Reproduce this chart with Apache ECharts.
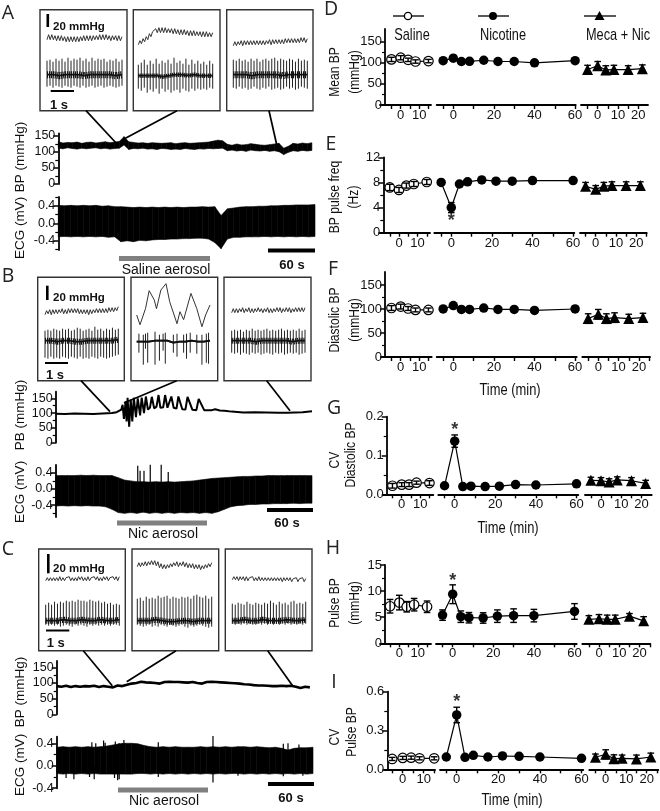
<!DOCTYPE html>
<html><head><meta charset="utf-8">
<style>html,body{margin:0;padding:0;background:#fff}#c{width:660px;height:811px}</style>
<script src="https://cdn.jsdelivr.net/npm/echarts@6/dist/echarts.min.js"></script>
</head><body><div id="c"></div>
<script>
// ---------- right column data ----------
const tSal=[-5,0,4,8,15], tNic=[-5,0,4,8,15,22,30,40,60], tMeca=[-5,0,4,8,15,22];
const dSal=[108,112,107,103,104], dSalE=[5,5,4,4,4];
const dNic=[105,111,103,103.5,106,103,103,100,105], dNicE=[4,4,4,4,4,4,4,4,4];
const dMeca=[84,93,83,84,84,86], dMecaE=[10,10,10,10,9,9];
const eSal=[7.2,6.8,7.5,7.75,8.07], eSalE=[.5,.4,.4,.4,.4];
const eNic=[8,4,7.75,8.1,8.4,8.2,8.2,8.3,8.3], eNicE=[.3,.8,.3,.3,.3,.3,.3,.3,.3];
const eMeca=[7.4,6.9,7.4,7.5,7.5,7.5], eMecaE=[.6,.6,.6,.6,.6,.6];
const fSal=[102,105,101,98,98], fSalE=[5,5,4,4,4];
const fNic=[100,107,99,99,102,99,99,97,100], fNicE=[4,4,4,4,4,4,4,4,4];
const fMeca=[80,89,80,82,80,82], fMecaE=[10,10,10,10,9,9];
const gSal=[.022,.025,.025,.03,.029], gSalE=[.006,.005,.005,.004,.006];
const gNic=[.022,.137,.02,.021,.02,.021,.025,.024,.027], gNicE=[.003,.016,.003,.003,.003,.003,.004,.003,.004];
const gMeca=[.036,.035,.032,.037,.035,.028], gMecaE=[.008,.008,.008,.008,.008,.008];
const hSal=[7.1,7.8,7,7.4,7], hSalE=[1.3,1.4,1,1.2,1.1];
const hNic=[5.4,9.4,5.1,4.9,4.85,5.2,5.3,5.3,6.1], hNicE=[1,1.8,1.1,1,1,1.2,1.3,1.2,1.5];
const hMeca=[4.6,4.7,4.6,4.6,5.2,4.3], hMecaE=[.7,.8,.8,.8,.5,.8];
const iSal=[.08,.088,.09,.085,.085], iSalE=[.012,.012,.012,.012,.012];
const iNic=[.095,.42,.093,.108,.095,.103,.1,.095,.085], iNicE=[.01,.06,.01,.012,.01,.012,.01,.01,.012];
const iMeca=[.093,.116,.082,.085,.08,.095], iMecaE=[.025,.035,.03,.025,.03,.03];
// ---------- main trace data ----------
const stepBp=6, stepEcg=8;
const bpAHi=[132,128,130,129,131,127,130,131,128,130,132,129,131,133,148,132,130,128,129,127,129,128,127,128,129,126,128,129,127,128,129,130,131,134,137,135,124,121,125,122,123,126,124,122,121,123,125,127,112,118,127,125,128,126,129];
const bpALo=[112,110,113,111,109,112,110,112,113,110,112,109,111,112,122,108,111,110,112,109,110,108,111,110,108,109,108,111,109,108,110,109,111,110,111,112,104,106,103,105,102,106,104,103,105,102,104,101,92,99,104,102,105,103,105];
const ecgAHi=[.41,.40,.41,.40,.41,.40,.41,.39,.40,.38,.38,.37,.36,.37,.36,.37,.36,.37,.36,.37,.36,.37,.37,.38,.37,.38,.18,.33,.35,.37,.38,.38,.39,.39,.40,.40,.41,.41,.42,.42,.42,.43];
const ecgALo=[-.31,-.30,-.31,-.30,-.31,-.30,-.31,-.30,-.32,-.31,-.42,-.40,-.42,-.39,-.40,-.38,-.37,-.37,-.36,-.36,-.35,-.35,-.34,-.34,-.36,-.44,-.58,-.36,-.32,-.32,-.31,-.31,-.31,-.30,-.31,-.30,-.31,-.30,-.31,-.30,-.31,-.30];
const bpBTime=[0,12,24,36,48,60,72,78,84,85.6,87.3,89.5,90.7,92,94,96,98,100,102.7,105,108,110,113,115.4,118,120.6,123,126,129,131.6,134,137.6,140,143,145,148,151,154.6,157,162,166,168.7,175,180,183,190,200,204,210,216,225,240,255,270,285,297,306,316,328];
const bpBVal=[98,97,99,98,97,99,100,103,112,128,80,140,72,152,54,146,72,152,86,150,92,152,100,156,112,118,155,116,122,161,118,120,161,118,115,156,118,115,156,113,112,155,111,110,148,110,110,113,109,108,105,102,103,102,101,101,102,103,106];
const ecgBHi=[.33,.33,.33,.33,.34,.33,.34,.33,.33,.33,.28,.22,.20,.18,.18,.17,.18,.17,.18,.17,.18,.19,.20,.22,.24,.26,.27,.28,.29,.30,.31,.31,.32,.32,.33,.33,.33,.33,.33,.33,.33,.33];
const ecgBLo=[-.42,-.41,-.42,-.41,-.42,-.41,-.42,-.42,-.44,-.50,-.58,-.60,-.58,-.60,-.57,-.60,-.58,-.60,-.58,-.60,-.58,-.59,-.58,-.60,-.58,-.60,-.56,-.50,-.44,-.41,-.40,-.38,-.38,-.37,-.37,-.36,-.36,-.36,-.35,-.36,-.35,-.35];
const spikeBT=[105,108,113,121,135,144], spikeBV=[.57,.45,.45,.6,.6,.42];
const bpC=[90,88,91,87,90,88,90,89,91,87,90,88,86,92,90,94,98,100,104,102,101,100,98,103,104,103,103,102,101,103,100,98,103,104,103,102,101,100,99,98,96,95,93,92,92,91,90,90,91,90,91,88,84,88,86];
const ecgCHi=[.33,.34,.33,.34,.33,.34,.33,.34,.35,.37,.39,.40,.40,.39,.36,.34,.33,.34,.33,.34,.33,.33,.33,.34,.33,.34,.33,.34,.33,.34,.34,.33,.34,.33,.32,.33,.31,.28,.31,.32,.32,.33];
const ecgCLo=[-.14,-.15,-.14,-.15,-.14,-.15,-.14,-.15,-.15,-.15,-.15,-.15,-.15,-.14,-.14,-.15,-.14,-.15,-.14,-.15,-.14,-.15,-.14,-.15,-.14,-.15,-.14,-.15,-.14,-.14,-.15,-.14,-.15,-.14,-.15,-.14,-.15,-.14,-.15,-.14,-.15,-.14];
const spikeCT=[45,50,60,62,75,80,84,86,130,200,290,296,310], spikeCV=[.42,.40,.45,.41,.43,.40,.40,.46,.42,.53,.39,.40,.38];
const dipCT=[12,22,42,48,74,78,80,130,200,232,290,315], dipCV=[-.22,-.24,-.20,-.24,-.22,-.26,-.24,-.20,-.30,-.18,-.19,-.18];
// ---------- inset traces (heights within each inset box) ----------
const bpA1=[71,76,71,76,71,75,70,75,70,75,70,74,69,74,69,74,69,74,69,74,69,74,70,75,70,75,70,75,70,75,71,75,71,76,71,76,71,76,71,75,70,75,71,75,70,75,70,74];
const upA1=[50,51,49,52,50,52,49,53,50,52,51,53,50,52,49,53,50,52,51,52,49,51,50,52,49,51];
const dnA1=[24,25,23,25,24,23,25,24,23,25,24,23,25,23,24,25,23,24,25,23,24,25,24,23,24,25];
const baseA1=[36,36,35,36,36,36,35,36,36,36,36,35,36];
const bpA2=[66,70,67,72,69,74,71,77,74,79,77,82,78,83,78,83,78,83,78,82,78,82,77,82,77,81,76,81,76,81,76,80,75,80,75,80,75,79,75,79,74,79,74,79,74,78,74,78];
const upA2=[46,48,51,46,50,47,52,47,50,48,51,47,53,48,50,47,52,46,51,47,50,47,49,46,50,47];
const dnA2=[22,20,23,18,21,19,22,17,22,19,21,18,20,21,18,22,20,19,22,20,22,21,22,21,23,22];
const baseA2=[35,35,35,35,34,35,36,36,35,36,35,35,35];
const bpA3=[65,69,65,69,66,70,65,70,66,70,66,70,66,70,66,70,66,70,66,70,66,70,67,71,66,71,67,71,67,71,67,71,67,72,68,72,68,72,68,72,68,72,68,73,69,73,68,72];
const upA3=[51,50,52,50,51,49,52,50,52,49,51,52,50,52,53,50,52,51,50,52,51,49,52,50,51,50];
const dnA3=[23,22,24,22,23,21,22,24,22,21,23,22,24,21,22,23,21,22,24,22,23,21,22,24,23,22];
const baseA3=[36,36,36,35,36,36,36,36,35,36,36,36,36];
const bpB1=[66,70,67,71,66,71,67,71,67,71,68,72,67,71,67,72,68,72,68,72,68,72,67,71,67,71,67,71,66,71,67,71,68,72,68,72,68,72,68,72,68,73,69,73,69,73,70,74];
const upB1=[50,51,50,52,51,50,52,51,52,50,51,53,52,50,51,52,50,54,51,52,50,52,51,53,51,52];
const dnB1=[23,22,24,22,23,22,24,23,22,24,23,22,24,22,23,22,24,23,22,24,23,22,23,24,25,26];
const baseB1=[40,40,39,40,40,39,39,40,40,40,40,40,41];
const timeB2=[0,4.5,12,17,24,27,33,40,45,55,59,64,74,82,89,94,96,100];
const bpB2=[65.7,56,72,90,80.7,72,90.7,97,79,57,69,61,87.3,72,54,65.7,64,75.7];
const spikeTB2=[3,9,12,15,25,31,36,39,50,55,64,68,73,82,89,95,98];
const upB2=[47,46,47,48,49,46,47,48,46,47,46,47,48,46,46,47,48];
const dnB2=[28,16,32,18,16,20,30,17,28,24,28,22,28,27,16,18,17];
const baseB2=[39,39,39,40,40,40,38,39,39,40,39,39,40];
const bpB3=[68,72,68,72,68,72,69,73,68,72,69,73,68,72,68,72,69,73,69,72,68,72,69,73,68,72,68,72,69,73,69,73,68,72,69,73,69,73,68,72,69,73,69,73,69,73,69,73];
const upB3=[50,51,50,51,49,51,50,52,50,51,50,51,52,50,51,50,51,52,50,51,50,51,50,52,50,51];
const dnB3=[28,27,28,26,28,27,26,28,27,28,26,27,28,27,26,28,27,28,26,27,28,27,28,26,27,28];
const baseB3=[40,40,40,40,39,40,40,40,40,40,39,40,40];
const bpC1=[70,73,70,73,70,73,70,73,70,74,70,73,70,73,71,74,70,73,70,73,70,74,71,74,70,73,70,74,70,73,71,74,71,74,70,73,70,74,71,74,70,73,71,74,71,74,70,74];
const upC1=[46,48,46,49,47,49,48,50,49,50,49,51,50,50,49,51,50,49,50,48,49,47,48,46,47,46];
const dnC1=[26,25,26,25,26,24,25,26,25,24,26,25,26,25,24,26,25,26,25,26,25,26,25,26,26,25];
const baseC1=[30,30,30,31,30,30,31,30,30,31,30,30,31];
const bpC2=[84,88,84,88,85,89,85,89,86,90,86,90,85,89,83,87,82,86,82,86,83,87,84,88,85,89,84,88,85,89,84,88,83,87,83,87,82,86,82,86,81,85,82,86,83,87,84,88];
const upC2=[52,53,50,54,52,53,52,55,53,54,55,52,54,53,52,54,53,54,52,55,56,54,53,55,52,54];
const dnC2=[26,25,24,25,26,24,25,24,26,25,24,26,25,24,25,26,24,23,25,24,25,26,25,24,23,24];
const baseC2=[30,30,30,31,30,29,29,30,30,29,30,30,30];
const bpC3=[71,74,71,74,70,74,71,74,70,74,70,73,71,74,70,73,70,74,70,73,70,73,70,73,70,73,70,73,70,73,70,73,69,73,70,73,70,73,69,72,70,73,69,72,70,73,69,72];
const upC3=[47,46,48,47,46,49,47,46,48,47,46,48,47,50,48,46,49,47,48,46,49,50,47,48,47,49];
const dnC3=[27,26,27,26,27,26,27,26,26,27,26,27,26,27,26,27,26,27,26,27,26,27,26,27,26,27];
const baseC3=[30,30,31,30,30,31,30,30,30,31,30,30,31];
// ---------- tick labels ----------
const ticksBp=[0,50,100,150], minorBp=[25,75,125];
const ticksEcg=[-.4,0,.4], minorEcg=[-.6,-.2,.2,.6];
// ---------- layout ----------
const SANS='"Liberation Sans",Arial,sans-serif';
const grid=[],xAxis=[],yAxis=[],series=[],graphic=[];
function addGrid(l,t,w,h){grid.push({left:l,top:t,width:w,height:h,containLabel:false});return grid.length-1;}
function hiddenX(g,min,max){xAxis.push({gridIndex:g,type:'value',min,max,show:false});return xAxis.length-1;}
function hiddenY(g,min,max){yAxis.push({gridIndex:g,type:'value',min,max,show:false});return yAxis.length-1;}
function shownY(g,min,max,majors,minors,dec,size){
  const base={gridIndex:g,type:'value',min,max,position:'left',splitLine:{show:false},
    axisLine:{show:true,onZero:false,lineStyle:{color:'#000',width:1.8}}};
  yAxis.push(Object.assign({},base,{axisTick:{show:true,length:5,customValues:majors,lineStyle:{color:'#000',width:1.5}},
    axisLabel:{show:true,customValues:majors,margin:3,color:'#111',fontFamily:SANS,fontSize:size,formatter:v=>Number(v).toFixed(dec)}}));
  const i=yAxis.length-1;
  yAxis.push(Object.assign({},base,{axisLine:{show:false},axisTick:{show:true,length:3,customValues:minors,lineStyle:{color:'#000',width:1.2}},axisLabel:{show:false}}));
  return i;
}
function text(x,y,t,o){o=o||{};graphic.push({type:'text',x,y,rotation:o.rot?Math.PI/2:0,scaleX:o.sx||1,z:100,style:{text:t,fill:o.fill||'#111',
  font:(o.bold?'bold ':'')+(o.size||13)+'px '+(o.fam||SANS),textAlign:o.align||'center',textVerticalAlign:'middle',verticalAlign:'middle'}});}
function rect(x,y,w,h,f){graphic.push({type:'rect',z:100,shape:{x,y,width:w,height:h},style:{fill:f}});}
function seg(x1,y1,x2,y2,w){graphic.push({type:'line',z:100,shape:{x1,y1,x2,y2},style:{stroke:'#000',lineWidth:w||1.6}});}
function envelope(x,y,dt,hi,lo){series.push({type:'custom',xAxisIndex:x,yAxisIndex:y,clip:false,silent:true,
  data:hi.map((h,i)=>[i*dt,h,lo[i]]),encode:{x:0,y:[1,2]},
  renderItem(p,api){const i=p.dataIndex;if(i>=hi.length-1)return;
    const a=api.coord([i*dt,hi[i]]),b=api.coord([(i+1)*dt,hi[i+1]]),c=api.coord([(i+1)*dt,lo[i+1]]),d=api.coord([i*dt,lo[i]]);
    return{type:'polygon',shape:{points:[a,b,c,d]},style:{fill:'#000',stroke:'#000',lineWidth:.6}};}});}
function spikes(x,y,ts,vs,from,w,col){const data=[];ts.forEach((t,i)=>{const f=Array.isArray(from)?from[i]:from;data.push([t,f],[t,vs[i]],[t,'-']);});
  series.push({type:'line',xAxisIndex:x,yAxisIndex:y,data,symbol:'none',silent:true,clip:false,connectNulls:false,lineStyle:{color:col||'#000',width:w||1}});}
function line(x,y,data,w,col,dash){series.push({type:'line',xAxisIndex:x,yAxisIndex:y,data,symbol:'none',silent:true,clip:false,lineStyle:{color:col||'#000',width:w,join:'bevel',type:dash||'solid'}});}

// left main panels
const leftPanels=[
 {x:58.3,r:315,bpHi:bpAHi,bpLo:bpALo,bpTop:133.3,bpZero:184,bpK:48/150,eTop:197,eZero:223.3,eK:43.75,eBot:250,hi:ecgAHi,lo:ecgALo,bl:'BP (mmHg)',blY:157,elY:228},
 {x:55.7,r:312,bp:bpBVal,times:bpBTime,bpTop:391.7,bpZero:442.7,bpK:44.4/150,bpW:2,eTop:465,eZero:489,eK:40.6,eBot:517,hi:ecgBHi,lo:ecgBLo,bl:'PB (mmHg)',blY:415,elY:492,spT:spikeBT,spV:spikeBV},
 {x:56.7,r:313,bp:bpC,bpTop:661,bpZero:714.3,bpK:47/150,bpW:2.6,eTop:736.7,eZero:765.7,eK:56,eBot:788.3,hi:ecgCHi,lo:ecgCLo,bl:'BP (mmHg)',blY:692,elY:765,spT:spikeCT,spV:spikeCV,dnT:dipCT,dnV:dipCV}
];
leftPanels.forEach(p=>{
  const w=p.r-p.x;
  let g=addGrid(p.x,p.bpTop,w,p.bpZero-p.bpTop);
  let xi=hiddenX(g,0,328),yi=shownY(g,0,(p.bpZero-p.bpTop)/p.bpK,ticksBp,minorBp,0,12.5);
  if(p.bpHi)envelope(xi,yi,stepBp,p.bpHi,p.bpLo);
  else line(xi,yi,p.bp.map((v,i)=>[p.times?p.times[i]:i*stepBp,v]),p.bpW);
  g=addGrid(p.x,p.eTop,w,p.eBot-p.eTop);
  xi=hiddenX(g,0,328);
  const eMax=(p.eZero-p.eTop)/p.eK,eMin=-(p.eBot-p.eZero)/p.eK;
  yi=shownY(g,eMin,eMax,ticksEcg,minorEcg.filter(v=>v>eMin&&v<eMax),1,12.5);
  envelope(xi,yi,stepEcg,p.hi,p.lo);
  if(p.spT)spikes(xi,yi,p.spT,p.spV,0,1.2);
  if(p.dnT)spikes(xi,yi,p.dnT,p.dnV,0,1.2);
  text(20,p.blY,p.bl,{rot:1,size:13.5});text(20,p.elY,'ECG (mV)',{rot:1,size:13.5});
});
// bars and labels
rect(119,256,91,5,'#808080');rect(117,520.5,90,5,'#808080');rect(118,787.5,90,5,'#808080');
rect(268,248.5,47,4,'#000');rect(267,508,46,4,'#000');rect(268,782,46,4,'#000');
text(166,270,'Saline aerosol',{size:14});text(163,534,'Nic aerosol',{size:14});text(164,801,'Nic aerosol',{size:14});
text(292,265,'60 s',{bold:1,size:13});text(287,523,'60 s',{bold:1,size:13});text(291,798,'60 s',{bold:1,size:13});
// letters
[['A',8,13],['B',8,276],['C',8,549],['D',331,9],['E',331,144],['F',333,269],['G',334,408],['H',333,548],['I',334,682]].forEach(a=>text(a[1],a[2],a[0],{fam:'"Open Sans",sans-serif',size:20.5,sx:.95,fill:'#222'}));
// connectors
[[86,110.7,117,144],[177,110.7,124,139],[269,110.7,277,146],[81,380.7,110,411.7],[176.7,380.7,124,403],[266.7,380.7,290,410.7],[83.3,650.7,112.3,685.7],[176,650.7,126.7,681.7],[267.7,650.7,293.3,686.7]].forEach(c=>seg(c[0],c[1],c[2],c[3],1.7));

// insets
const insets=[
 {l:40,r:127,t:9.7,b:110.7,tx:[47,122],bp:bpA1,up:upA1,dn:dnA1,base:baseA1,bw:7},
 {l:133.3,r:220,t:9.7,b:110.7,tx:[138.3,212.7],bp:bpA2,up:upA2,dn:dnA2,base:baseA2,bw:4.5},
 {l:226.7,r:313,t:9.7,b:110.7,tx:[233.3,307.3],bp:bpA3,up:upA3,dn:dnA3,base:baseA3,bw:7},
 {l:37.7,r:124.3,t:277.3,b:380.7,tx:[45,118.3],bp:bpB1,up:upB1,dn:dnB1,base:baseB1,bw:6},
 {l:131,r:217.7,t:277.3,b:380.7,tx:[136.7,210],bp:bpB2,bpT:timeB2,up:upB2,dn:dnB2,spT:spikeTB2,base:baseB2,bw:1.8,solid:1},
 {l:224,r:311,t:277.3,b:380.7,tx:[231.7,305],bp:bpB3,up:upB3,dn:dnB3,base:baseB3,bw:6},
 {l:38.7,r:125.3,t:549,b:650.7,tx:[45.7,119.3],bp:bpC1,up:upC1,dn:dnC1,base:baseC1,bw:6},
 {l:132,r:218.7,t:549,b:650.7,tx:[137.3,211.7],bp:bpC2,up:upC2,dn:dnC2,base:baseC2,bw:6},
 {l:225.3,r:312,t:549,b:650.7,tx:[232.3,305.7],bp:bpC3,up:upC3,dn:dnC3,base:baseC3,bw:6}
];
insets.forEach(b=>{
  graphic.push({type:'rect',z:-1,shape:{x:b.l,y:b.t,width:b.r-b.l,height:b.b-b.t},style:{fill:'#fff',stroke:'#333',lineWidth:1.4}});
  const h=b.b-b.t,g=addGrid(b.tx[0],b.t,b.tx[1]-b.tx[0],h),xi=hiddenX(g,0,100),yi=hiddenY(g,0,h);
  series.push({type:'line',xAxisIndex:xi,yAxisIndex:yi,data:b.bp.map((v,i)=>[b.bpT?b.bpT[i]:i*100/(b.bp.length-1),v]),symbol:'none',silent:true,lineStyle:{color:'#333',width:1}});
  const ts=b.spT||b.up.map((_,i)=>i*100/(b.up.length-1));
  spikes(xi,yi,ts,b.up,b.dn,1,'#222');
  line(xi,yi,b.base.map((v,i)=>[i*100/(b.base.length-1),v]),b.bw,'#111',b.solid?'solid':[1.1,.9]);
  line(xi,yi,b.base.map((v,i)=>[i*100/(b.base.length-1),v]),1.8,'#111');
});
// inset scale bars
rect(46.5,14,2.6,13,'#000');text(53,27,'20 mmHg',{bold:1,size:11.5,align:'left'});rect(50.7,90,23.3,2,'#000');text(59,105,'1 s',{bold:1,size:13});
rect(46,285.7,2.6,14.3,'#000');text(53,298,'20 mmHg',{bold:1,size:11.5,align:'left'});rect(45,362,23,2,'#000');text(55,375.7,'1 s',{bold:1,size:13});
rect(47,554,2.6,19.3,'#000');text(53,569,'20 mmHg',{bold:1,size:11.5,align:'left'});rect(46,629.5,23.3,2,'#000');text(55.7,643,'1 s',{bold:1,size:13});

// right panels
function errBars(xi,yi,ts,vs,es,z){series.push({type:'custom',z,xAxisIndex:xi,yAxisIndex:yi,clip:false,silent:true,data:ts.map((t,i)=>[t,vs[i],es[i]]),encode:{x:0,y:1},
  renderItem(p,api){const x=api.value(0),y=api.value(1),e=api.value(2),a=api.coord([x,y+e]),b=api.coord([x,y-e]);
    const st={stroke:'#000',lineWidth:1.4};
    return{type:'group',children:[{type:'line',shape:{x1:a[0],y1:a[1],x2:b[0],y2:b[1]},style:st},
      {type:'line',shape:{x1:a[0]-3.3,y1:a[1],x2:a[0]+3.3,y2:a[1]},style:st},{type:'line',shape:{x1:b[0]-3.3,y1:b[1],x2:b[0]+3.3,y2:b[1]},style:st}]};}});}
const rows=[
 {spine:385,top:29,y0:105,yTop:180,segs:[[380,431,400.7,1.85],[436.7,575.7,453.3,2.03],[581,648,597.7,2.03]],maj:[0,50,100,150],min:[25,75,125],dec:0,sal:dSal,salE:dSalE,nic:dNic,nicE:dNicE,mec:dMeca,mecE:dMecaE,
  labels:[['Mean BP',335,72],['(mmHg)',355,72]]},
 {spine:383.3,top:157.3,y0:232.7,yTop:12,segs:[[380,430,399,1.85],[434.3,574.3,451.3,2.03],[580,646.7,595.7,2.03]],maj:[0,4,8,12],min:[2,6,10],dec:0,sal:eSal,salE:eSalE,nic:eNic,nicE:eNicE,mec:eMeca,mecE:eMecaE,star:2.55,
  labels:[['BP pulse freq',335,197],['(Hz)',354,197]]},
 {spine:385,top:272,y0:357,yTop:177,segs:[[381.7,431.7,400.7,1.85],[436.7,576.7,453.3,2.03],[582.3,650,598.3,2.03]],maj:[0,50,100,150],min:[25,75,125],dec:0,sal:fSal,salE:fSalE,nic:fNic,nicE:fNicE,mec:fMeca,mecE:fMecaE,
  labels:[['Diastolic BP',335,320],['(mmHg)',355,320]]},
 {spine:386.7,top:416.7,y0:494.3,yTop:.2,segs:[[383.3,433.3,401.7,1.85],[438.3,578.3,454.7,2.03],[585,651.7,601,2.03]],maj:[0,.1,.2],min:[.05,.15],dec:1,sal:gSal,salE:gSalE,nic:gNic,nicE:gNicE,mec:gMeca,mecE:gMecaE,star:.176,
  labels:[['CV',335,460],['Diastolic BP',351,455]]},
 {spine:385,top:565,y0:643.3,yTop:15,segs:[[380,431,399.3,1.85],[436,576.7,452.7,2.03],[582.3,650,599,2.03]],maj:[0,5,10,15],min:[2.5,7.5,12.5],dec:0,sal:hSal,salE:hSalE,nic:hNic,nicE:hNicE,mec:hMeca,mecE:hMecaE,star:12.6,
  labels:[['Pulse BP',335,603],['(mmHg)',355,603]]},
 {spine:387.3,top:691.7,y0:769.3,yTop:.6,segs:[[384.3,435,402.7,2.1],[440,583.3,456.7,2.08],[589.3,658.3,605.7,2.05]],maj:[0,.3,.6],min:[.15,.45],dec:1,sal:iSal,salE:iSalE,nic:iNic,nicE:iNicE,mec:iMeca,mecE:iMecaE,star:.55,
  labels:[['CV',335,737],['Pulse BP',352,732]]}
];
const xTicks=[[-5,0,5,10,15],[-5,0,10,20,30,40,50,60],[-5,0,5,10,15,20,25]];
const xLabels=[[0,10],[0,20,40,60],[0,10,20]];
rows.forEach(r=>{
  // the y axis has its own grid, so that the x segments may start left of it
  const ag=addGrid(r.spine,r.top,20,r.y0-r.top);
  hiddenX(ag,0,1);
  shownY(ag,0,r.yTop,r.maj,r.min,r.dec,13);
  r.segs.forEach((s,k)=>{
    const g=addGrid(s[0],r.top,s[1]-s[0],r.y0-r.top);
    const xmin=(s[0]-s[2])/s[3],xmax=(s[1]-s[2])/s[3];
    xAxis.push({gridIndex:g,type:'value',min:xmin,max:xmax,splitLine:{show:false},
      axisLine:{show:true,onZero:false,lineStyle:{color:'#000',width:1.8}},
      axisTick:{show:true,length:4,customValues:xTicks[k],lineStyle:{color:'#000',width:1.4}},
      axisLabel:{show:true,customValues:xLabels[k],margin:4,color:'#111',fontFamily:SANS,fontSize:13,formatter:v=>String(Math.round(v))}});
    const xi=xAxis.length-1;
    const yi=hiddenY(g,0,r.yTop);
    const t=[tSal,tNic,tMeca][k],v=[r.sal,r.nic,r.mec][k],e=[r.salE,r.nicE,r.mecE][k];
    series.push({type:'line',z:2,xAxisIndex:xi,yAxisIndex:yi,clip:false,silent:true,data:t.map((a,i)=>[a,v[i]]),
      symbol:k===2?'triangle':'circle',symbolSize:k===2?11:9.5,showSymbol:true,
      lineStyle:{color:'#000',width:1.2},itemStyle:{color:k===0?'#fff':'#000',borderColor:'#000',borderWidth:k===0?1.2:0,opacity:1}});
    errBars(xi,yi,t,v,e,3);
    if(k===1&&r.star!==undefined)series.push({type:'scatter',z:4,xAxisIndex:xi,yAxisIndex:yi,clip:false,silent:true,data:[[0,r.star]],symbolSize:1,itemStyle:{color:'rgba(0,0,0,0)'},
      label:{show:true,formatter:'*',position:'inside',offset:[0,4],fontFamily:SANS,fontWeight:'bold',fontSize:18,color:'#000'}});
  });
  r.labels.forEach(a=>text(a[1],a[2],a[0],{rot:1,size:15.5,sx:.78}));
});
text(510,390,'Time (min)',{size:17,sx:.76});text(508,528,'Time (min)',{size:17,sx:.76});text(512,800,'Time (min)',{size:17,sx:.76});
// legend of D
seg(393,16,424,16,1.3);seg(478,16,509,16,1.3);seg(584,16,616,16,1.3);
graphic.push({type:'circle',z:100,shape:{cx:408,cy:16,r:3.6},style:{fill:'#fff',stroke:'#000',lineWidth:1.3}});
graphic.push({type:'circle',z:100,shape:{cx:493,cy:16,r:4},style:{fill:'#000'}});
graphic.push({type:'polygon',z:100,shape:{points:[[599.5,11],[594.5,20],[604.5,20]]},style:{fill:'#000'}});
text(412,35,'Saline',{size:17,sx:.75});text(503,35,'Nicotine',{size:17,sx:.75});text(618,35,'Meca + Nic',{size:17,sx:.75});

const chart=echarts.init(document.getElementById('c'),null,{renderer:'canvas'});
chart.setOption({animation:false,backgroundColor:'#fff',tooltip:{show:false},grid,xAxis,yAxis,series,graphic:{elements:graphic}});
</script></body></html>
